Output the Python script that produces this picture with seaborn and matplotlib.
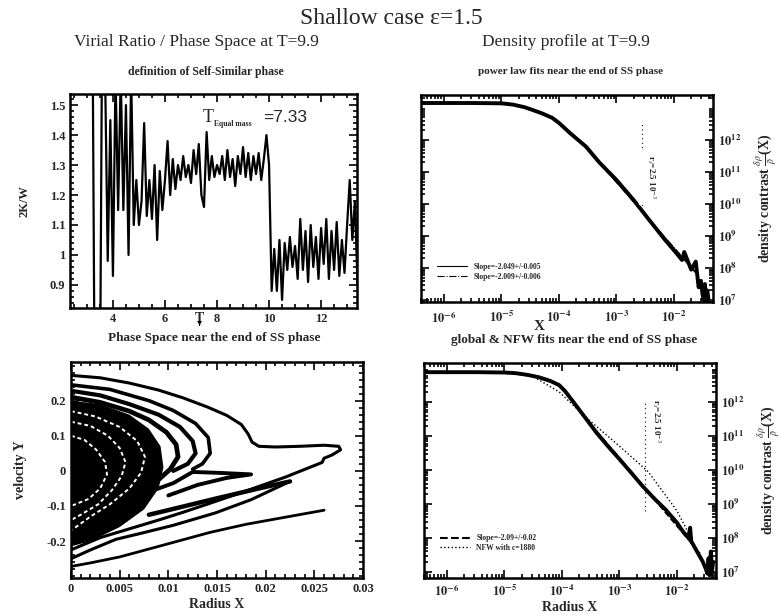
import numpy as np
import pandas as pd
import matplotlib
matplotlib.use("Agg")
import matplotlib.pyplot as plt
import seaborn as sns
from matplotlib.ticker import MultipleLocator, FixedLocator, LogLocator, NullFormatter, FuncFormatter
from matplotlib.lines import Line2D

# ---------------- data ----------------
# Virial ratio 2K/W vs time T
time_T = [3.2, 3.3, 3.4, 3.5, 3.6, 3.7, 3.8, 3.9, 4.0, 4.1, 4.2, 4.3, 4.4, 4.5, 4.6, 4.7, 4.8, 4.9,
          5.0, 5.1, 5.2, 5.3, 5.4, 5.5, 5.6, 5.7, 5.8, 5.9, 6.0, 6.1, 6.2, 6.3, 6.4, 6.5, 6.6, 6.7,
          6.8, 6.9, 7.0, 7.1, 7.2, 7.3, 7.4, 7.5, 7.6, 7.7, 7.8, 7.9, 8.0, 8.1, 8.2, 8.3, 8.4, 8.5,
          8.6, 8.7, 8.8, 8.9, 9.0, 9.1, 9.2, 9.3, 9.4, 9.5, 9.6, 9.7, 9.8, 9.9, 10.0, 10.1, 10.2,
          10.3, 10.4, 10.5, 10.6, 10.7, 10.8, 10.9, 11.0, 11.1, 11.2, 11.3, 11.4, 11.5, 11.6, 11.7,
          11.8, 11.9, 12.0, 12.1, 12.2, 12.3, 12.4, 12.5, 12.6, 12.7, 12.8, 12.9, 13.0, 13.1, 13.2,
          13.3, 13.4]
virial = [2.0, 0.5, 0.3, 0.5, 2.0, 1.6, 0.98, 1.45, 0.93, 1.6, 1.15, 1.6, 1.15, 1.5, 1.0, 1.6, 1.1, 1.25,
          1.1, 1.18, 1.44, 1.13, 1.25, 1.12, 1.3, 1.05, 1.28, 1.15, 1.25, 1.38, 1.2, 1.32, 1.22, 1.3, 1.25, 1.33,
          1.26, 1.3, 1.24, 1.35, 1.27, 1.37, 1.2, 1.16, 1.41, 1.25, 1.33, 1.26, 1.3, 1.27, 1.33, 1.25, 1.35, 1.26,
          1.32, 1.23, 1.33, 1.27, 1.36, 1.26, 1.34, 1.25, 1.33, 1.27, 1.34, 1.25, 1.32, 1.40, 1.3, 0.88, 1.02,
          0.88, 1.05, 0.85, 1.04, 0.95, 1.06, 0.96, 1.03, 0.92, 1.12, 0.95, 1.08, 0.91, 1.1, 0.96,
          1.06, 0.92, 1.09, 0.97, 1.12, 0.92, 1.08, 0.95, 1.11, 0.93, 1.05, 0.94, 1.1, 1.25, 1.05,
          1.18, 0.9]
T_equal = 7.33

# Density profile (log10 radius, log10 density contrast) - top panel
logx_top = [-6.4, -6.0, -5.5, -5.0, -4.8, -4.6, -4.47, -4.3, -4.12, -4.0, -3.8, -3.53, -3.3, -3.0, -2.7,
            -2.43, -2.15, -1.95, -1.86, -1.82, -1.7, -1.62, -1.57, -1.53, -1.5, -1.48, -1.46, -1.44,
            -1.42, -1.40]
logy_top = [13.15, 13.15, 13.15, 13.14, 13.1, 13.02, 12.94, 12.83, 12.69, 12.53, 12.2, 11.79, 11.3, 10.75,
            10.12, 9.5, 8.87, 8.45, 8.25, 8.5, 7.95, 8.2, 7.4, 7.6, 7.15, 7.0, 7.5, 6.95, 7.3, 7.05]
fit1_logx = [-3.6, -1.6]
fit1_logy = [11.92, 7.8]
fit2_logx = [-3.6, -1.6]
fit2_logy = [11.88, 7.84]

# Density profile - bottom panel
logx_bot = [-6.4, -6.0, -5.5, -5.0, -4.8, -4.6, -4.4, -4.2, -4.05, -3.95, -3.8, -3.6, -3.4, -3.2, -3.0,
            -2.8, -2.6, -2.4, -2.2, -2.0, -1.9, -1.8, -1.77, -1.75, -1.7, -1.65, -1.6, -1.55, -1.5,
            -1.47, -1.45, -1.43, -1.41, -1.39, -1.37]
logy_bot = [12.88, 12.88, 12.88, 12.87, 12.85, 12.80, 12.73, 12.62, 12.5, 12.33, 12.0, 11.55, 11.1, 10.7,
            10.32, 9.93, 9.53, 9.17, 8.84, 8.45, 8.2, 8.0, 8.3, 7.9, 7.75, 7.6, 7.45, 7.3, 7.1,
            6.95, 7.4, 6.9, 7.6, 7.0, 7.3]
nfw_logx = [-6.4, -5.0, -4.5, -4.05, -3.55, -3.08, -2.5, -2.0, -1.8]
nfw_logy = [12.9, 12.88, 12.75, 12.3, 11.5, 10.82, 9.95, 8.8, 8.15]
glob_logx = [-3.6, -1.6]
glob_logy = [11.55, 7.55]
log_rs = -2.56

# Phase space streams (radius X, velocity Y)
outer_x = [0.0, 0.003, 0.006, 0.009, 0.0115, 0.014, 0.016, 0.0175, 0.0182, 0.0186, 0.0193, 0.021, 0.0235,
           0.026, 0.0275, 0.0277, 0.0268, 0.026, 0.0258, 0.022, 0.018, 0.0143, 0.0115, 0.009, 0.006,
           0.003, 0.0]
outer_y = [0.272, 0.265, 0.25, 0.23, 0.208, 0.182, 0.158, 0.132, 0.105, 0.082, 0.07, 0.068, 0.07,
           0.073, 0.07, 0.06, 0.045, 0.036, 0.024, -0.018, -0.057, -0.092, -0.118, -0.14, -0.165,
           -0.19, -0.225]
bottom_x = [0.0, 0.002, 0.005, 0.009, 0.0143, 0.018, 0.022, 0.026]
bottom_y = [-0.272, -0.262, -0.245, -0.215, -0.175, -0.152, -0.132, -0.112]
inner_bottom_x = [0.0, 0.002, 0.0046, 0.0073, 0.0105, 0.0148, 0.0185, 0.0225]
inner_bottom_y = [-0.25, -0.225, -0.195, -0.177, -0.155, -0.12, -0.082, -0.03]
arc1_x = [0.0, 0.004, 0.008, 0.0105, 0.0128, 0.0141, 0.0143, 0.0135, 0.0125]
arc1_y = [0.245, 0.232, 0.2, 0.172, 0.135, 0.095, 0.05, 0.02, 0.005]
arc2_x = [0.0, 0.003, 0.006, 0.009, 0.0112, 0.0125, 0.0128, 0.012, 0.0105]
arc2_y = [0.228, 0.215, 0.19, 0.16, 0.125, 0.085, 0.05, 0.02, 0.0]
arc3_x = [0.0, 0.003, 0.006, 0.008, 0.0098, 0.0108, 0.011, 0.0102, 0.009, 0.007]
arc3_y = [0.21, 0.195, 0.17, 0.145, 0.11, 0.075, 0.04, 0.005, -0.025, -0.05]
stripe1_x = [0.0225, 0.019, 0.015, 0.011, 0.008]
stripe1_y = [-0.03, -0.052, -0.078, -0.105, -0.125]
stripe2_x = [0.008, 0.0105, 0.0125, 0.0155, 0.0185, 0.016, 0.013, 0.010]
stripe2_y = [-0.06, -0.035, -0.003, -0.006, -0.01, -0.02, -0.04, -0.07]
core_x = [0.0, 0.003, 0.006, 0.008, 0.0092, 0.0095, 0.009, 0.0075, 0.005, 0.002, 0.0]
core_y = [0.2, 0.19, 0.16, 0.12, 0.07, 0.01, -0.05, -0.11, -0.16, -0.2, -0.215]
gap1_x = [0.0, 0.0025, 0.005, 0.0068, 0.0076, 0.0072, 0.006, 0.004, 0.002, 0.0]
gap1_y = [0.17, 0.155, 0.125, 0.085, 0.04, -0.005, -0.05, -0.095, -0.13, -0.17]
gap2_x = [0.0, 0.002, 0.0038, 0.005, 0.0056, 0.0052, 0.0042, 0.0028, 0.001, 0.0]
gap2_y = [0.14, 0.128, 0.1, 0.065, 0.025, -0.015, -0.055, -0.095, -0.125, -0.14]
gap3_x = [0.0, 0.0014, 0.0026, 0.0035, 0.0037, 0.003, 0.0018, 0.0]
gap3_y = [0.1, 0.088, 0.06, 0.025, -0.01, -0.05, -0.08, -0.1]

# ---------------- style ----------------
sns.set_theme(style="ticks")
plt.rcParams['font.family'] = ['Liberation Serif', 'DejaVu Serif']
plt.rcParams['mathtext.fontset'] = 'stix'
plt.rcParams['axes.linewidth'] = 1.6
plt.rcParams['xtick.direction'] = 'in'
plt.rcParams['ytick.direction'] = 'in'

W, H = 782, 615
fig = plt.figure(figsize=(W / 100, H / 100), dpi=100)
fig.patch.set_facecolor('white')


def px_axes(l, t, r, b):
    return fig.add_axes([l / W, 1 - b / H, (r - l) / W, (b - t) / H])


def style_ticks(ax):
    ax.tick_params(which='both', top=True, right=True, direction='in', color='black', width=1.2)
    ax.tick_params(which='major', length=6)
    ax.tick_params(which='minor', length=3)
    ax.tick_params(labelsize=9)
    for lab in ax.get_xticklabels() + ax.get_yticklabels():
        lab.set_fontweight('bold')
    for s in ax.spines.values():
        s.set_color('black')
        s.set_linewidth(1.8)


def draw_line(ax, xs, ys, **kw):
    d = pd.DataFrame({'x': xs, 'y': ys})
    sns.lineplot(data=d, x='x', y='y', ax=ax, sort=False, estimator=None, errorbar=None, **kw)


ax1 = px_axes(70, 94, 357, 308)
ax2 = px_axes(421, 95, 713, 302)
ax3 = px_axes(71, 362, 363, 578)
ax4 = px_axes(424, 363, 716, 578)

# ---- Virial ratio ----
draw_line(ax1, time_T, virial, color='black', lw=1.6)
ax1.set_xlim(2.35, 13.38)
ax1.set_ylim(0.823, 1.537)
ax1.xaxis.set_major_locator(FixedLocator([4, 6, 8, 10, 12]))
ax1.xaxis.set_minor_locator(MultipleLocator(0.5))
ax1.yaxis.set_major_locator(MultipleLocator(0.1))
ax1.yaxis.set_minor_locator(MultipleLocator(0.02))
ax1.yaxis.set_major_formatter(FuncFormatter(lambda v, p: '%g' % round(v, 2)))
ax1.set_xlabel('')
ax1.set_ylabel('2K/W', fontsize=9, fontweight='bold', labelpad=14)
style_ticks(ax1)
ax1.text(T_equal, -0.02, 'T', transform=ax1.get_xaxis_transform(), ha='center', va='top',
         fontsize=10, fontweight='bold')
ax1.annotate('', xy=(T_equal, -0.095), xytext=(T_equal, -0.065), xycoords=ax1.get_xaxis_transform(),
             textcoords=ax1.get_xaxis_transform(),
             arrowprops=dict(arrowstyle='-|>', lw=0.8, color='black', mutation_scale=5))
ax1.text(0.463, 0.89, 'T', transform=ax1.transAxes, fontsize=13, ha='left', va='center')
ax1.text(0.503, 0.858, 'Equal mass', transform=ax1.transAxes, fontsize=5.5, fontweight='bold',
         ha='left', va='center')
ax1.text(0.672, 0.89, '=7.33', transform=ax1.transAxes, fontsize=12.5, ha='left', va='center',
         family=['Liberation Sans', 'DejaVu Sans'])


def log_axes(ax, ylo, yhi, xpad):
    ax.set_xscale('log')
    ax.set_yscale('log')
    ax.set_xlim(10 ** -6.4, 10 ** -1.32)
    ax.set_ylim(10 ** ylo, 10 ** yhi)
    ax.xaxis.set_major_locator(FixedLocator([1e-6, 1e-5, 1e-4, 1e-3, 1e-2]))
    ax.xaxis.set_minor_locator(LogLocator(base=10, subs=np.arange(2, 10), numticks=20))
    ax.xaxis.set_minor_formatter(NullFormatter())
    ax.yaxis.set_major_locator(FixedLocator([1e7, 1e8, 1e9, 1e10, 1e11, 1e12]))
    ax.yaxis.set_minor_locator(LogLocator(base=10, subs=np.arange(2, 10), numticks=20))
    ax.yaxis.set_minor_formatter(NullFormatter())
    fmt = FuncFormatter(lambda v, p: r'$\mathbf{10^{%d}}$' % round(np.log10(v)))
    ax.xaxis.set_major_formatter(fmt)
    ax.yaxis.set_major_formatter(fmt)
    ax.yaxis.tick_right()
    style_ticks(ax)
    ax.tick_params(axis='y', which='both', left=True, right=True, labelleft=False, labelright=True)
    ax.tick_params(axis='x', which='major', pad=xpad)
    ax.yaxis.set_label_position('right')
    ax.set_ylabel(r'density contrast $\frac{\delta\rho}{\bar{\rho}}$(X)', fontsize=10, fontweight='bold',
                  labelpad=9)


# ---- Density top ----
draw_line(ax2, np.power(10.0, logx_top), np.power(10.0, logy_top), color='black', lw=2.8)
ax2.plot(np.power(10.0, fit1_logx), np.power(10.0, fit1_logy), color='black', lw=0.8, ls='-')
ax2.plot(np.power(10.0, fit2_logx), np.power(10.0, fit2_logy), color='black', lw=0.8, ls='-.')
log_axes(ax2, 6.94, 13.4, 6)
ax2.set_xlabel('')
ax2.vlines(10 ** log_rs, 10 ** 9.8, 10 ** 12.5, colors='black', lw=0.8, linestyles=(0, (1, 3)))
ax2.text(10 ** -2.4, 10 ** 10.85, r'r$_s$=2.5 10$^{-3}$', rotation=-90, fontsize=6.5,
         ha='center', va='center', fontweight='bold', backgroundcolor='white')
ax2.text(10 ** -4.35, -0.085, 'X', transform=ax2.get_xaxis_transform(), fontsize=11, fontweight='bold',
         ha='center', va='top')
h1 = [Line2D([], [], color='black', lw=0.8, ls='-'), Line2D([], [], color='black', lw=0.8, ls='-.')]
ax2.legend(h1, ['Slope=-2.049+/-0.005', 'Slope=-2.009+/-0.006'], loc='lower left',
           bbox_to_anchor=(0.03, 0.07), frameon=False, handlelength=4,
           prop={'weight': 'bold', 'size': 5.5}, labelspacing=0.2)

# ---- Phase space ----
streams = [
    (outer_x, outer_y, 2.2), (bottom_x, bottom_y, 2.0), (inner_bottom_x, inner_bottom_y, 2.2),
    (arc1_x, arc1_y, 2.6), (arc2_x, arc2_y, 3.0), (arc3_x, arc3_y, 3.4),
    (stripe1_x, stripe1_y, 3.2), (stripe2_x, stripe2_y, 2.8),
]
for sx, sy, lw in streams:
    draw_line(ax3, sx, sy, color='black', lw=lw)
ax3.fill(core_x, core_y, color='black', lw=0)
for gx, gy in [(gap1_x, gap1_y), (gap2_x, gap2_y), (gap3_x, gap3_y)]:
    ax3.plot(gx, gy, color='white', lw=1.4, ls=(0, (2, 1.5)))
ax3.set_xlim(0, 0.03)
ax3.set_ylim(-0.305, 0.31)
ax3.xaxis.set_major_locator(MultipleLocator(0.005))
ax3.xaxis.set_minor_locator(MultipleLocator(0.001))
ax3.xaxis.set_major_formatter(FuncFormatter(lambda v, p: '%g' % round(v, 4)))
ax3.yaxis.set_major_locator(FixedLocator([-0.2, -0.1, 0.0, 0.1, 0.2]))
ax3.yaxis.set_minor_locator(MultipleLocator(0.02))
ax3.yaxis.set_major_formatter(FuncFormatter(lambda v, p: '%g' % round(v, 2)))
ax3.set_xlabel('Radius X', fontsize=10, fontweight='bold', labelpad=2)
ax3.set_ylabel('velocity Y', fontsize=10, fontweight='bold', labelpad=14)
style_ticks(ax3)

# ---- Density bottom ----
draw_line(ax4, np.power(10.0, logx_bot), np.power(10.0, logy_bot), color='black', lw=2.8)
ax4.plot(np.power(10.0, nfw_logx), np.power(10.0, nfw_logy), color='black', lw=1.0, ls=':')
ax4.plot(np.power(10.0, glob_logx), np.power(10.0, glob_logy), color='black', lw=1.2, ls='--')
log_axes(ax4, 6.82, 13.15, 4)
ax4.vlines(10 ** log_rs, 10 ** 8.8, 10 ** 12.05, colors='black', lw=0.8, linestyles=(0, (1, 3)))
ax4.text(10 ** -2.36, 10 ** 11.45, r'r$_s$=2.5 10$^{-3}$', rotation=-90, fontsize=6.5,
         ha='center', va='center', fontweight='bold')
ax4.set_xlabel('Radius X', fontsize=10, fontweight='bold', labelpad=1)
h2 = [Line2D([], [], color='black', lw=1.5, ls='--'), Line2D([], [], color='black', lw=1.0, ls=':')]
ax4.legend(h2, ['Slope=-2.09+/-0.02', 'NFW with c=1880'], loc='lower left',
           bbox_to_anchor=(0.03, 0.09), frameon=False, handlelength=4,
           prop={'weight': 'bold', 'size': 5.5}, labelspacing=0.2)

# ---- titles ----
fig.text(391 / W, 1 - 18 / H, 'Shallow case \u03b5=1.5', ha='center', va='center', fontsize=17)
fig.text(196 / W, 1 - 42 / H, 'Virial Ratio / Phase Space at T=9.9', ha='center', va='center', fontsize=12.5)
fig.text(566 / W, 1 - 42 / H, 'Density profile at T=9.9', ha='center', va='center', fontsize=12.5)
fig.text(206 / W, 1 - 72 / H, 'definition of Self-Similar phase', ha='center', va='center', fontsize=8.5,
         fontweight='bold')
fig.text(571 / W, 1 - 72 / H, 'power law fits near the end of SS phase', ha='center', va='center',
         fontsize=8, fontweight='bold')
fig.text(214 / W, 1 - 338 / H, 'Phase Space near the end of SS phase', ha='center', va='center',
         fontsize=9.5, fontweight='bold')
fig.text(574 / W, 1 - 340 / H, 'global & NFW fits near the end of SS phase', ha='center', va='center',
         fontsize=9.5, fontweight='bold')

fig.savefig('out.png', dpi=100, facecolor='white')
